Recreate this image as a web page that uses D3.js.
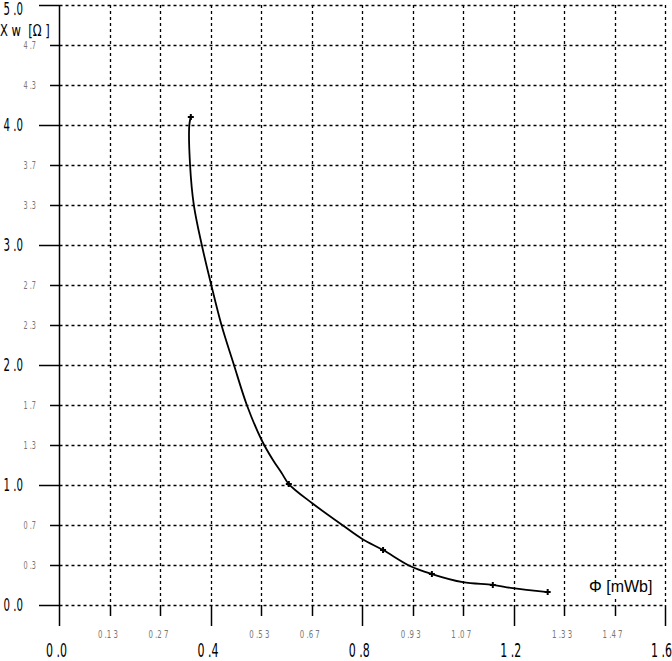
<!DOCTYPE html>
<html><head><meta charset="utf-8">
<script src="https://cdn.jsdelivr.net/npm/d3@7"></script>
<style>
html,body{margin:0;padding:0;background:#fff;}
svg text{font-family:"DejaVu Sans",sans-serif;}
</style></head>
<body><svg id="c" width="672" height="661"></svg>
<script>
// Data
const curveX = [0.347,0.343,0.345,0.355,0.376,0.401,0.428,0.461,0.495,0.534,0.564,0.587,0.606,0.667,0.747,0.800,0.855,0.926,0.984,1.066,1.145,1.198,1.290];
const curveY = [4.067,4.000,3.667,3.333,3.000,2.667,2.333,2.000,1.667,1.375,1.208,1.100,1.008,0.850,0.667,0.550,0.458,0.325,0.258,0.190,0.167,0.140,0.108];
const markerX = [0.347,0.606,0.855,0.984,1.145,1.290];
const markerY = [4.067,1.008,0.458,0.258,0.167,0.108];
const xMajor = [0.0,0.4,0.8,1.2,1.6];
const xMinor = [0.1333,0.2667,0.5333,0.6667,0.9333,1.0667,1.3333,1.4667];
const xMinorLabels = ["0.13","0.27","0.53","0.67","0.93","1.07","1.33","1.47"];
const yMajor = [0,1,2,3,4,5];
const yMinor = [0.3333,0.6667,1.3333,1.6667,2.3333,2.6667,3.3333,3.6667,4.3333,4.6667];
const yMinorLabels = ["0.3","0.7","1.3","1.7","2.3","2.7","3.3","3.7","4.3","4.7"];

const svg = d3.select("#c");
const x = d3.scaleLinear().domain([0,1.6]).range([59.5,665]);
const y = d3.scaleLinear().domain([0,5]).range([605,5]);

const spaced = s => s.split("").join(" ").replace(/ \. /g," .");
const px = v => Math.round(v)+0.5;

// grid
const g = svg.append("g");
const allX = xMajor.concat(xMinor), allY = yMajor.concat(yMinor);
g.selectAll("line.gx").data(allX.filter(d=>d>0)).join("line")
  .attr("x1",d=>px(x(d))).attr("x2",d=>px(x(d)))
  .attr("y1",y(5)).attr("y2",y(0))
  .attr("stroke","#000").attr("stroke-width",1.3).attr("stroke-dasharray","3,3");
g.selectAll("line.gy").data(allY).join("line")
  .attr("y1",d=>px(y(d))).attr("y2",d=>px(y(d)))
  .attr("x1",x(0)).attr("x2",x(1.6))
  .attr("stroke","#000").attr("stroke-width",1.3).attr("stroke-dasharray","3,3");

// y axis line
svg.append("line").attr("x1",x(0)).attr("x2",x(0)).attr("y1",y(5)).attr("y2",626)
  .attr("stroke","#000").attr("stroke-width",1.5);
// y ticks
svg.selectAll("line.yt").data(yMajor).join("line")
  .attr("x1",39).attr("x2",x(0)).attr("y1",d=>px(y(d))).attr("y2",d=>px(y(d)))
  .attr("stroke","#000").attr("stroke-width",1.5);
svg.selectAll("line.ytm").data(yMinor).join("line")
  .attr("x1",50).attr("x2",x(0)).attr("y1",d=>px(y(d))).attr("y2",d=>px(y(d)))
  .attr("stroke","#000").attr("stroke-width",1.5);
// x ticks
svg.selectAll("line.xt").data(xMajor.filter(d=>d>0)).join("line")
  .attr("x1",d=>px(x(d))).attr("x2",d=>px(x(d))).attr("y1",y(0)).attr("y2",626)
  .attr("stroke","#000").attr("stroke-width",1.5);
svg.selectAll("line.xtm").data(xMinor).join("line")
  .attr("x1",d=>px(x(d))).attr("x2",d=>px(x(d))).attr("y1",y(0)).attr("y2",616)
  .attr("stroke","#000").attr("stroke-width",1.5);

// label helper: horizontally compressed text
function label(sel, tx, ty, sx){
  sel.attr("transform",(d,i)=>`translate(${tx(d,i)},${ty(d,i)}) scale(${sx},1)`);
}
// y labels
label(svg.selectAll("text.ym").data(yMajor).join("text")
  .attr("font-size",17).attr("fill","#000").attr("text-anchor","end")
  .text(d=>spaced(d.toFixed(1))),
  d=>23, d=>d===5?15:y(d)+6, 0.6);
label(svg.selectAll("text.yn").data(yMinor).join("text")
  .attr("font-size",10).attr("fill","#777").attr("text-anchor","end").text((d,i)=>spaced(yMinorLabels[i])),
  d=>36, d=>y(d)+4, 0.65);
// x labels
label(svg.selectAll("text.xm").data(xMajor).join("text")
  .attr("font-size",19).attr("fill","#000").attr("text-anchor",d=>d===1.6?"end":"middle")
  .text(d=>spaced(d.toFixed(1))),
  d=>d===1.6?672:x(d)-3, d=>657, 0.58);
label(svg.selectAll("text.xn").data(xMinor).join("text")
  .attr("font-size",10).attr("fill","#777").attr("text-anchor","middle").text((d,i)=>spaced(xMinorLabels[i])),
  d=>x(d)-2, d=>638, 0.7);

// axis titles
svg.append("text").attr("font-size",16).attr("fill","#000")
  .attr("transform","translate(0,36) scale(0.72,1)")
  .attr("xml:space","preserve")
  .text("X w  [Ω ]");
const xt = svg.append("g");
const xtBg = xt.append("rect").attr("fill","#fff");
const xtT = xt.append("text").attr("x",589).attr("y",592).attr("font-size",16).attr("fill","#000")
  .style("font-family","Liberation Sans, sans-serif")
  .text("Φ [mWb]");
const bb = xtT.node().getBBox();
xtBg.attr("x",bb.x-2).attr("y",bb.y).attr("width",bb.width+4).attr("height",bb.height+2);

// curve
const pts = curveX.map((d,i)=>[d,curveY[i]]);
svg.append("path").datum(pts)
  .attr("d",d3.line().x(d=>x(d[0])).y(d=>y(d[1])).curve(d3.curveCatmullRom.alpha(0.5)))
  .attr("fill","none").attr("stroke","#000").attr("stroke-width",1.8);

// markers
const mk = markerX.map((d,i)=>[d,markerY[i]]);
svg.selectAll("path.mk").data(mk).join("path")
  .attr("transform",d=>`translate(${x(d[0])},${y(d[1])})`)
  .attr("d","M-3,0H3M0,-3V3")
  .attr("stroke","#000").attr("stroke-width",2);
</script></body></html>
